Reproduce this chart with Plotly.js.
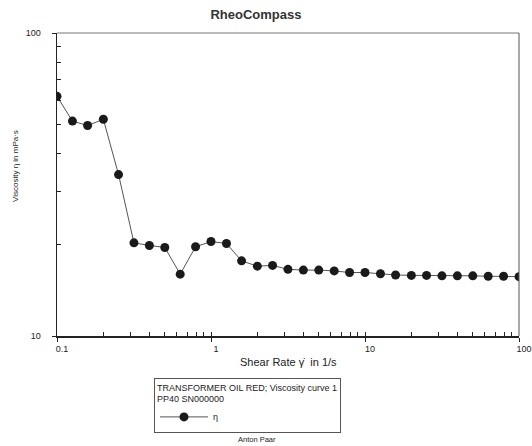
<!DOCTYPE html>
<html>
<head>
<meta charset="utf-8">
<script src="https://cdn.plot.ly/plotly-3.0.1.min.js"></script>
<style>html,body{margin:0;padding:0;background:#fff;}#chart{width:532px;height:446px;}</style>
</head>
<body>
<div id="chart"></div>
<script>
// Shear rate (1/s)
const shearRate = [0.1, 0.126, 0.158, 0.2, 0.251, 0.316, 0.398, 0.501, 0.631, 0.794,
  1, 1.26, 1.58, 2.0, 2.51, 3.16, 3.98, 5.01, 6.31, 7.94,
  10, 12.6, 15.8, 20, 25.1, 31.6, 39.8, 50.1, 63.1, 79.4, 100];
// Viscosity (mPa·s)
const viscosity = [61.8, 51.2, 49.5, 51.9, 34.1, 20.3, 19.9, 19.6, 16.0, 19.7,
  20.5, 20.2, 17.7, 17.0, 17.1, 16.6, 16.5, 16.5, 16.4, 16.2,
  16.2, 16.05, 15.9, 15.85, 15.85, 15.8, 15.8, 15.8, 15.75, 15.75, 15.7];

const xMajorTicks = [0.1, 1, 10, 100];
const xMajorLabels = ['0.1', '1', '10', '100'];
const xMinorTicks = [0.2,0.3,0.4,0.5,0.6,0.7,0.8,0.9, 2,3,4,5,6,7,8,9, 20,30,40,50,60,70,80,90];
const yMajorTicks = [10, 100];
const yMajorLabels = ['10', '100'];
const yMinorTicks = [20,30,40,50,60,70,80,90];

const seriesName = 'η';
const legendTitle = 'TRANSFORMER OIL RED; Viscosity curve 1<br>PP40 SN000000';
const chartTitle = 'RheoCompass';
const xTitle = 'Shear Rate γ̇  in 1/s';
const yTitle = 'Viscosity η in mPa·s';
const footer = 'Anton Paar';

const font = 'Liberation Sans, Arial, sans-serif';

const traces = [
  {
    x: shearRate, y: viscosity, type: 'scatter', mode: 'lines+markers',
    name: seriesName,
    line: {color: '#555555', width: 1},
    marker: {color: '#1a1a1a', size: 9, symbol: 'circle'},
    xaxis: 'x', yaxis: 'y'
  },
  {
    x: [0.1], y: [10], type: 'scatter', mode: 'markers',
    marker: {opacity: 0}, showlegend: false, hoverinfo: 'skip',
    xaxis: 'x2', yaxis: 'y2'
  }
];

const layout = {
  width: 532, height: 446,
  margin: {l: 57, r: 13, t: 33, b: 110},
  paper_bgcolor: '#ffffff', plot_bgcolor: '#ffffff',
  font: {family: font, size: 9, color: '#222'},
  showlegend: true,
  title: {text: '<b>' + chartTitle + '</b>', x: 256/532, xref: 'container', xanchor: 'center',
          y: 1 - 14/446, yref: 'container', yanchor: 'middle',
          font: {family: font, size: 13, color: '#333'}},
  xaxis: {
    type: 'log', range: [-1, 2], tickvals: xMajorTicks, ticktext: xMajorLabels,
    ticks: 'outside', ticklen: 4, tickcolor: '#222', tickwidth: 1,
    ticklabelshift: 5,
    showgrid: false, zeroline: false, showline: true, linecolor: '#222', linewidth: 1.5,
    tickfont: {size: 9, color: '#222'}
  },
  yaxis: {
    type: 'log', range: [1, 2], tickvals: yMajorTicks, ticktext: yMajorLabels,
    ticks: 'outside', ticklen: 4, tickcolor: '#222', tickwidth: 1,
    ticklabelstandoff: 9,
    showgrid: false, zeroline: false, showline: true, linecolor: '#222', linewidth: 1.5,
    tickfont: {size: 9, color: '#222'}
  },
  xaxis2: {
    type: 'log', range: [-1, 2], overlaying: 'x', anchor: 'y2',
    tickvals: xMinorTicks.concat(xMajorTicks), ticks: 'inside', ticklen: 4,
    tickcolor: '#222', showticklabels: false, showgrid: false, zeroline: false, showline: false
  },
  yaxis2: {
    type: 'log', range: [1, 2], overlaying: 'y', anchor: 'x2',
    tickvals: yMinorTicks.concat(yMajorTicks), ticks: 'inside', ticklen: 4,
    tickcolor: '#222', showticklabels: false, showgrid: false, zeroline: false, showline: false
  },
  legend: {
    x: (154-57)/462, xanchor: 'left', y: (336-378)/303, yanchor: 'top',
    bordercolor: '#555', borderwidth: 1, bgcolor: '#fff',
    font: {family: font, size: 9, color: '#222'},
    title: {text: legendTitle, side: 'top', font: {family: font, size: 9, color: '#222'}},
    itemwidth: 48, tracegroupgap: 0
  },
  shapes: [
    {type: 'line', xref: 'paper', yref: 'paper', x0: 0, x1: 1, y0: 1, y1: 1, line: {color: '#777', width: 1}},
    {type: 'line', xref: 'paper', yref: 'paper', x0: 1, x1: 1, y0: 0, y1: 1, line: {color: '#555', width: 1}}
  ],
  annotations: [
    {text: xTitle, xref: 'paper', yref: 'paper', x: (288-57)/462, y: (336-362)/303, xanchor: 'center', yanchor: 'middle',
     showarrow: false, font: {family: font, size: 11, color: '#222'}},
    {text: yTitle, xref: 'paper', yref: 'paper', x: (15-57)/462, y: (336-166)/303, xanchor: 'center', yanchor: 'middle',
     textangle: -90, showarrow: false, font: {family: font, size: 8, color: '#222'}},
    {text: footer, xref: 'paper', yref: 'paper', x: (257-57)/462, y: (336-439)/303, xanchor: 'center', yanchor: 'middle',
     showarrow: false, font: {family: font, size: 7.5, color: '#222'}}
  ]
};

Plotly.newPlot('chart', traces, layout, {displayModeBar: false, staticPlot: true});
</script>
</body>
</html>
